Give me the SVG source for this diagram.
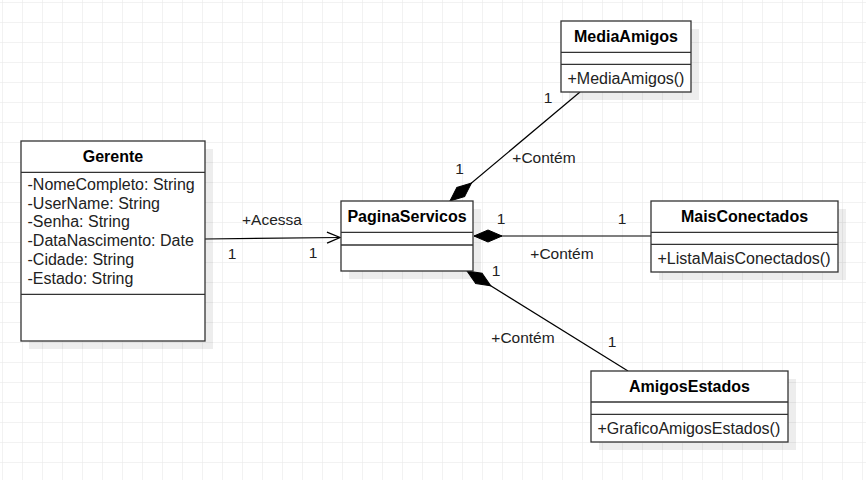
<svg xmlns="http://www.w3.org/2000/svg" width="866" height="480" viewBox="0 0 866 480">
<defs>
<pattern id="grid" x="2" y="2" width="20" height="20" patternUnits="userSpaceOnUse">
<path d="M0,0 V20 M0,0 H20" stroke="#e6e6e6" stroke-width="1" fill="none"/>
</pattern>
<marker id="diamond" markerUnits="userSpaceOnUse" viewBox="-1 -8 31 16" refX="0" refY="0" markerWidth="31" markerHeight="16" orient="auto" overflow="visible">
<path d="M0,0 L14,-6 L28,0 L14,6 Z" fill="#000" stroke="#000" stroke-width="1"/>
</marker>
<marker id="open" markerUnits="userSpaceOnUse" viewBox="-15 -8 17 16" refX="0" refY="0" markerWidth="17" markerHeight="16" orient="auto" overflow="visible">
<path d="M-13,-5.5 L0,0 L-13,5.5" fill="none" stroke="#000" stroke-width="1.3"/>
</marker>
</defs>
<style>
.box{fill:#fff;stroke:#333;stroke-width:1.3}
.shadow{fill:#000;opacity:0.07}
.div{stroke:#333;stroke-width:1.3}
.title{font-family:"Liberation Sans",Arial,sans-serif;font-size:16px;font-weight:bold;fill:#000;text-anchor:middle}
.member{font-family:"Liberation Sans",Arial,sans-serif;font-size:16px;fill:#222}
.lbl{font-family:"Liberation Sans",Arial,sans-serif;font-size:15.5px;fill:#222}
.conn{stroke:#000;stroke-width:1.2;fill:none}
</style>
<rect width="866" height="480" fill="#fff"/>
<rect width="866" height="480" fill="url(#grid)"/>

<g id="connectors">
<path class="conn" d="M205,239 L340,237.5" marker-end="url(#open)"/>
<path class="conn" d="M450,201 L580,92" marker-start="url(#diamond)"/>
<path class="conn" d="M474,236 L651,236" marker-start="url(#diamond)"/>
<path class="conn" d="M467,271 L628,371" marker-start="url(#diamond)"/>
<text class="lbl" x="272" y="224.5" text-anchor="middle">+Acessa</text>
<text class="lbl" x="232" y="258.5" text-anchor="middle">1</text>
<text class="lbl" x="313" y="257.5" text-anchor="middle">1</text>
<text class="lbl" x="544" y="163" text-anchor="middle">+Contém</text>
<text class="lbl" x="548" y="102.5" text-anchor="middle">1</text>
<text class="lbl" x="459.5" y="173.5" text-anchor="middle">1</text>
<text class="lbl" x="562" y="258.5" text-anchor="middle">+Contém</text>
<text class="lbl" x="501" y="224" text-anchor="middle">1</text>
<text class="lbl" x="622" y="224" text-anchor="middle">1</text>
<text class="lbl" x="523" y="342.5" text-anchor="middle">+Contém</text>
<text class="lbl" x="496" y="276" text-anchor="middle">1</text>
<text class="lbl" x="612" y="347" text-anchor="middle">1</text>
</g>

<g id="Gerente">
<rect class="shadow" x="29" y="149" width="184" height="200"/>
<rect class="box" x="21" y="141" width="184" height="200"/>
<line class="div" x1="21" y1="172.3" x2="205" y2="172.3"/>
<line class="div" x1="21" y1="294.3" x2="205" y2="294.3"/>
<text class="title" x="113" y="161.7">Gerente</text>
<text class="member" x="27.5" y="190">-NomeCompleto: String</text>
<text class="member" x="27.5" y="208.7">-UserName: String</text>
<text class="member" x="27.5" y="227.4">-Senha: String</text>
<text class="member" x="27.5" y="246.1">-DataNascimento: Date</text>
<text class="member" x="27.5" y="264.8">-Cidade: String</text>
<text class="member" x="27.5" y="283.5">-Estado: String</text>
</g>

<g id="PaginaServicos">
<rect class="shadow" x="349" y="209" width="132" height="70"/>
<rect class="box" x="341" y="201" width="132" height="70"/>
<line class="div" x1="341" y1="232.3" x2="473" y2="232.3"/>
<line class="div" x1="341" y1="245" x2="473" y2="245"/>
<text class="title" x="407" y="222.4">PaginaServicos</text>
</g>

<g id="MediaAmigos">
<rect class="shadow" x="569" y="29" width="130" height="71"/>
<rect class="box" x="561" y="21" width="130" height="71"/>
<line class="div" x1="561" y1="52.3" x2="691" y2="52.3"/>
<line class="div" x1="561" y1="64.3" x2="691" y2="64.3"/>
<text class="title" x="626" y="41.7">MediaAmigos</text>
<text class="member" x="567.5" y="84">+MediaAmigos()</text>
</g>

<g id="MaisConectados">
<rect class="shadow" x="659" y="209" width="187" height="71"/>
<rect class="box" x="651" y="201" width="187" height="71"/>
<line class="div" x1="651" y1="232.3" x2="838" y2="232.3"/>
<line class="div" x1="651" y1="244.3" x2="838" y2="244.3"/>
<text class="title" x="744.5" y="222.4">MaisConectados</text>
<text class="member" x="657.5" y="264">+ListaMaisConectados()</text>
</g>

<g id="AmigosEstados">
<rect class="shadow" x="599" y="379" width="197" height="71"/>
<rect class="box" x="591" y="371" width="197" height="71"/>
<line class="div" x1="591" y1="402" x2="788" y2="402"/>
<line class="div" x1="591" y1="414.3" x2="788" y2="414.3"/>
<text class="title" x="689.5" y="392.4">AmigosEstados</text>
<text class="member" x="597.5" y="434">+GraficoAmigosEstados()</text>
</g>
</svg>
